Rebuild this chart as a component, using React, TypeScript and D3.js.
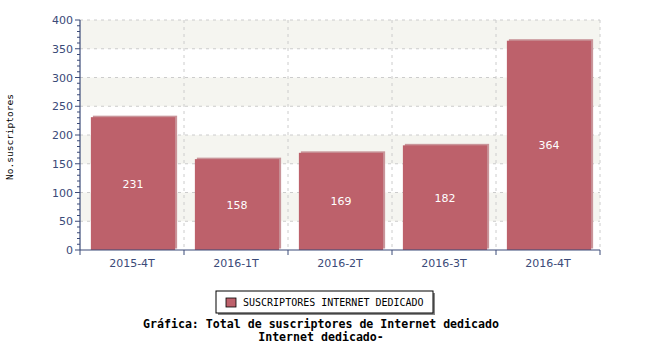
import React from "react";
import * as d3 from "d3";

const categories = ["2015-4T", "2016-1T", "2016-2T", "2016-3T", "2016-4T"];
const values = [231, 158, 169, 182, 364];
const yTicks = [0, 50, 100, 150, 200, 250, 300, 350, 400];
const seriesName = "SUSCRIPTORES INTERNET DEDICADO";
const yLabel = "No.suscriptores";
const titleLines = ["Gráfica: Total de suscriptores de Internet dedicado", "Internet dedicado-"];

export default function App() {
  const W = 650, H = 350;
  const left = 80, right = 600, top = 20, bottom = 250;
  const x = d3.scaleBand<string>().domain(categories).range([left, right]).paddingInner(0).paddingOuter(0);
  const y = d3.scaleLinear().domain([0, 400]).range([bottom, top]);
  const bw = x.bandwidth() * 0.81;
  const axisColor = "#3b4a78";
  const minor = d3.range(0, 401, 10);
  const bands = [];
  for (let i = 0; i < yTicks.length - 1; i++) {
    if (i % 2 === 1) bands.push([yTicks[i], yTicks[i + 1]]);
  }
  return (
    <svg width={W} height={H} style={{ position: "absolute", left: 0, top: 0 }}>
      <rect x={0} y={0} width={W} height={H} fill="#fff" />
      {bands.map(([a, b], i) => (
        <rect key={i} x={left} y={y(b)} width={right - left} height={y(a) - y(b)} fill="#f5f5f0" />
      ))}
      {yTicks.filter(t => t > 0).map(t => (
        <line key={t} x1={left} x2={right} y1={y(t)} y2={y(t)} stroke="#cccccc" strokeDasharray="3,4" />
      ))}
      {categories.slice(1).concat(["end"]).map((c, i) => {
        const xx = left + x.bandwidth() * (i + 1);
        return <line key={c} x1={xx} x2={xx} y1={top} y2={bottom} stroke="#cccccc" strokeDasharray="3,4" />;
      })}
      {categories.map((c, i) => {
        const cx = (x(c) as number) + x.bandwidth() / 2 + 1;
        const bx = cx - bw / 2;
        return (
          <g key={c}>
            <rect x={bx + 2} y={y(values[i]) - 1.5} width={bw} height={bottom - y(values[i])} fill="#c9959a" />
            <rect x={bx} y={y(values[i])} width={bw} height={bottom - y(values[i])} fill="#bd616b" />
            <text x={cx} y={(y(values[i]) + bottom) / 2 + 4} textAnchor="middle" fill="#fff"
              fontFamily="DejaVu Sans" fontSize={11}>{values[i]}</text>
          </g>
        );
      })}
      {/* y axis */}
      <line x1={left} x2={left} y1={top} y2={bottom} stroke={axisColor} strokeWidth={1.2} />
      {minor.map(t => (
        <line key={t} x1={t % 50 === 0 ? left - 5 : left - 3} x2={left} y1={y(t)} y2={y(t)} stroke={axisColor} />
      ))}
      {yTicks.map(t => (
        <text key={t} x={left - 7} y={y(t) + 4} textAnchor="end" fill={axisColor}
          fontFamily="DejaVu Sans" fontSize={11}>{t}</text>
      ))}
      {/* x axis */}
      <line x1={left} x2={right} y1={bottom} y2={bottom} stroke={axisColor} strokeWidth={1.2} />
      {d3.range(categories.length + 1).map(i => {
        const xx = left + x.bandwidth() * i;
        return <line key={i} x1={xx} x2={xx} y1={bottom} y2={bottom + 5} stroke={axisColor} />;
      })}
      {categories.map(c => (
        <text key={c} x={(x(c) as number) + x.bandwidth() / 2} y={bottom + 17} textAnchor="middle" fill={axisColor}
          fontFamily="DejaVu Sans" fontSize={11}>{c}</text>
      ))}
      <text transform={`translate(13,137) rotate(-90)`} textAnchor="middle" fill="#000"
        fontFamily="DejaVu Sans Mono" fontSize={9.5}>{yLabel}</text>
      {/* legend */}
      <rect x={218} y={293} width={217} height={22} fill="#888" />
      <rect x={216} y={291} width={217} height={22} fill="#fff" stroke="#000" />
      <rect x={226} y={298} width={10} height={9} fill="#bd616b" stroke="#000" strokeWidth={0.8} />
      <text x={243} y={306} fill="#000" fontFamily="DejaVu Sans Mono" fontSize={10}>{seriesName}</text>
      {titleLines.map((t, i) => (
        <text key={i} x={321} y={328 + i * 13} textAnchor="middle" fill="#000" fontWeight="bold"
          fontFamily="DejaVu Sans Mono" fontSize={11.6}>{t}</text>
      ))}
    </svg>
  );
}
